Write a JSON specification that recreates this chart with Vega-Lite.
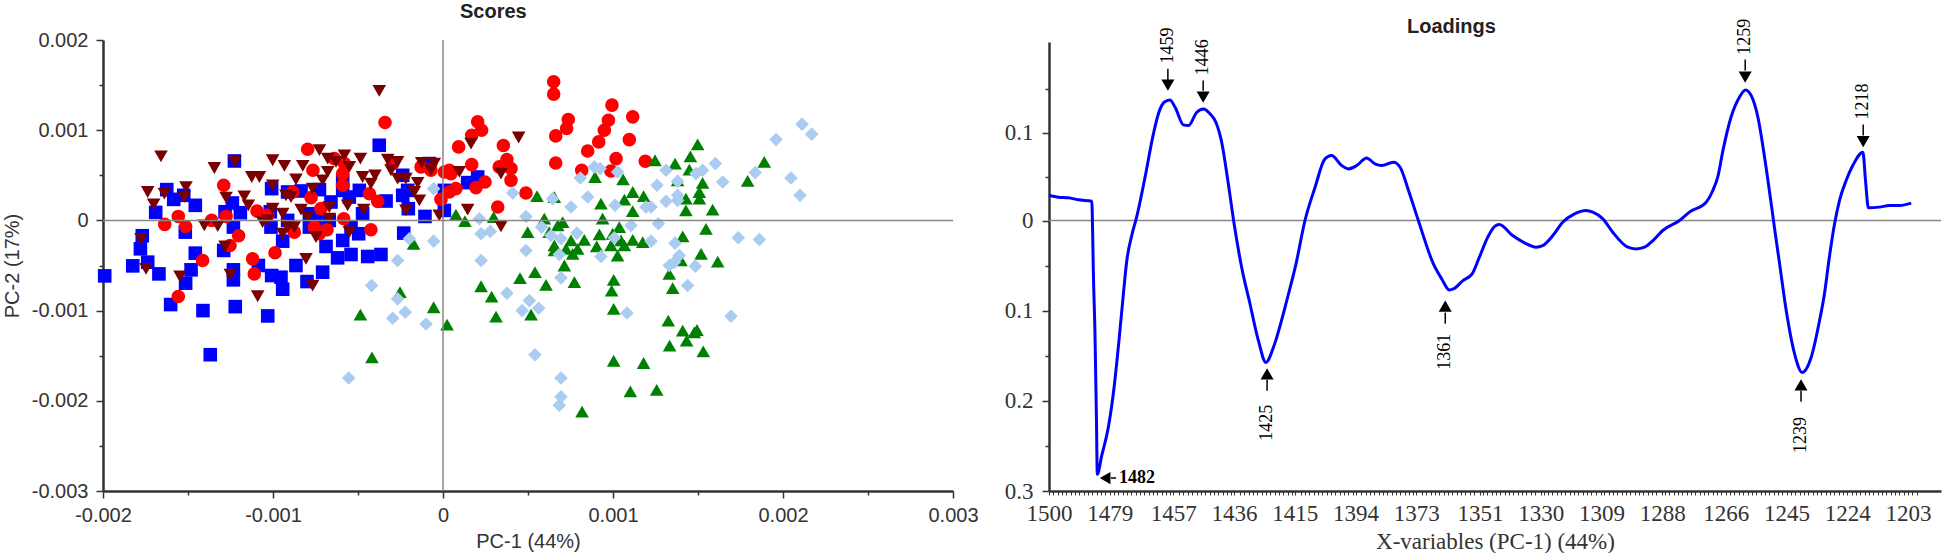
{
"$schema":"https://vega.github.io/schema/vega-lite/v6.json",
"background":"white",
"padding":{"left":2,"top":2,"right":0,"bottom":0},
"bounds":"flush",
"spacing":96,
"config":{"view":{"stroke":null}},
"datasets":{
"scores":[
{"g":"Group 1","x":-0.00199,"y":-0.000615},{"g":"Group 1","x":-0.001825,"y":-0.000504},{"g":"Group 1","x":-0.001737,"y":-0.000463},{"g":"Group 1","x":-0.00178,"y":-0.000315},{"g":"Group 1","x":-0.001769,"y":-0.00017},{"g":"Group 1","x":-0.001671,"y":-0.000593},{"g":"Group 1","x":-0.00169,"y":0.000089},{"g":"Group 1","x":-0.001625,"y":0.000341},{"g":"Group 1","x":-0.001584,"y":0.000233},{"g":"Group 1","x":-0.001525,"y":0.000278},{"g":"Group 1","x":-0.001457,"y":0.000167},{"g":"Group 1","x":-0.001516,"y":-0.00013},{"g":"Group 1","x":-0.001457,"y":-0.000363},{"g":"Group 1","x":-0.001482,"y":-0.000548},{"g":"Group 1","x":-0.001514,"y":-0.000696},{"g":"Group 1","x":-0.00129,"y":-0.000333},{"g":"Group 1","x":-0.001233,"y":-0.000548},{"g":"Group 1","x":-0.001233,"y":-0.000659},{"g":"Group 1","x":-0.001239,"y":0.000193},{"g":"Group 1","x":-0.001282,"y":0.000096},{"g":"Group 1","x":-0.001192,"y":0.000085},{"g":"Group 1","x":-0.001233,"y":-0.000074},{"g":"Group 1","x":-0.001227,"y":0.000659},{"g":"Group 1","x":-0.001008,"y":0.000352},{"g":"Group 1","x":-0.001016,"y":0.000096},{"g":"Group 1","x":-0.001012,"y":-0.000074},{"g":"Group 1","x":-0.001086,"y":-0.0005},{"g":"Group 1","x":-0.001008,"y":-0.000611},{"g":"Group 1","x":-0.000953,"y":-0.00063},{"g":"Group 1","x":-0.000943,"y":-0.000763},{"g":"Group 1","x":-0.000943,"y":-0.00023},{"g":"Group 1","x":-0.000914,"y":0},{"g":"Group 1","x":-0.000914,"y":0.000315},{"g":"Group 1","x":-0.000835,"y":0.000326},{"g":"Group 1","x":-0.000865,"y":-0.0005},{"g":"Group 1","x":-0.0008,"y":-0.000678},{"g":"Group 1","x":-0.000708,"y":-0.000574},{"g":"Group 1","x":-0.000688,"y":-0.000289},{"g":"Group 1","x":-0.000786,"y":0.000074},{"g":"Group 1","x":-0.000786,"y":-0.000074},{"g":"Group 1","x":-0.000727,"y":0.000341},{"g":"Group 1","x":-0.000747,"y":0},{"g":"Group 1","x":-0.000659,"y":0.000204},{"g":"Group 1","x":-0.000669,"y":0},{"g":"Group 1","x":-0.00059,"y":0.000444},{"g":"Group 1","x":-0.00059,"y":0.000333},{"g":"Group 1","x":-0.000551,"y":0.000259},{"g":"Group 1","x":-0.000492,"y":0.000333},{"g":"Group 1","x":-0.000473,"y":0.000074},{"g":"Group 1","x":-0.000541,"y":-0.000074},{"g":"Group 1","x":-0.00059,"y":-0.000222},{"g":"Group 1","x":-0.00062,"y":-0.000415},{"g":"Group 1","x":-0.000541,"y":-0.000378},{"g":"Group 1","x":-0.000496,"y":-0.000148},{"g":"Group 1","x":-0.000443,"y":-0.0004},{"g":"Group 1","x":-0.000365,"y":-0.000378},{"g":"Group 1","x":-0.000335,"y":0.000215},{"g":"Group 1","x":-0.000375,"y":0.000833},{"g":"Group 1","x":-0.000237,"y":0.0005},{"g":"Group 1","x":-0.000237,"y":0.000278},{"g":"Group 1","x":-0.000208,"y":0.000333},{"g":"Group 1","x":-0.000204,"y":0.00013},{"g":"Group 1","x":-0.000231,"y":-0.000141},{"g":"Group 1","x":-0.000106,"y":0.000044},{"g":"Group 1","x":-0.00008,"y":0.00063},{"g":"Group 1","x":0.000008,"y":0.000333},{"g":"Group 1","x":0.000008,"y":0.000111},{"g":"Group 1","x":0.000145,"y":0.000419},{"g":"Group 1","x":0.000204,"y":0.000481},{"g":"Group 1","x":-0.001602,"y":-0.000933},{"g":"Group 1","x":-0.001412,"y":-0.001},{"g":"Group 1","x":-0.001222,"y":-0.000956},{"g":"Group 1","x":-0.001031,"y":-0.001059},{"g":"Group 1","x":-0.001369,"y":-0.001489},
{"g":"Group 2","x":-0.001637,"y":-0.000044},{"g":"Group 2","x":-0.001557,"y":0.000044},{"g":"Group 2","x":-0.001514,"y":-0.000067},{"g":"Group 2","x":-0.001414,"y":-0.000444},{"g":"Group 2","x":-0.001361,"y":0},{"g":"Group 2","x":-0.00129,"y":0.000389},{"g":"Group 2","x":-0.001276,"y":0.000044},{"g":"Group 2","x":-0.001202,"y":-0.00017},{"g":"Group 2","x":-0.001253,"y":-0.000278},{"g":"Group 2","x":-0.00112,"y":-0.000426},{"g":"Group 2","x":-0.00111,"y":-0.000593},{"g":"Group 2","x":-0.000988,"y":-0.000359},{"g":"Group 2","x":-0.001094,"y":0.000104},{"g":"Group 2","x":-0.001031,"y":0.000056},{"g":"Group 2","x":-0.000884,"y":0.000315},{"g":"Group 2","x":-0.000875,"y":-0.00013},{"g":"Group 2","x":-0.000796,"y":0.000789},{"g":"Group 2","x":-0.000765,"y":0.000556},{"g":"Group 2","x":-0.000776,"y":0.000252},{"g":"Group 2","x":-0.000718,"y":0.00013},{"g":"Group 2","x":-0.000757,"y":-0.000074},{"g":"Group 2","x":-0.000727,"y":-0.000148},{"g":"Group 2","x":-0.000682,"y":-0.000104},{"g":"Group 2","x":-0.000584,"y":0.000019},{"g":"Group 2","x":-0.00059,"y":0.000389},{"g":"Group 2","x":-0.00059,"y":0.000519},{"g":"Group 2","x":-0.000639,"y":0.000685},{"g":"Group 2","x":-0.00058,"y":0.00063},{"g":"Group 2","x":-0.000424,"y":-0.000104},{"g":"Group 2","x":-0.000433,"y":0.000296},{"g":"Group 2","x":-0.000384,"y":0.000211},{"g":"Group 2","x":-0.000341,"y":0.001085},{"g":"Group 2","x":-0.000296,"y":0.00063},{"g":"Group 2","x":-0.000129,"y":0.000593},{"g":"Group 2","x":-0.000071,"y":0.000556},{"g":"Group 2","x":-0.000012,"y":0.000233},{"g":"Group 2","x":0.000008,"y":0.000537},{"g":"Group 2","x":0.000037,"y":0.000556},{"g":"Group 2","x":0.000047,"y":0.000519},{"g":"Group 2","x":0.000037,"y":0.000315},{"g":"Group 2","x":0.000076,"y":0.000352},{"g":"Group 2","x":0.000092,"y":0.000815},{"g":"Group 2","x":0.000169,"y":0.000944},{"g":"Group 2","x":0.000204,"y":0.001093},{"g":"Group 2","x":0.000227,"y":0.001},{"g":"Group 2","x":0.000169,"y":0.000619},{"g":"Group 2","x":0.000194,"y":0.000363},{"g":"Group 2","x":0.000247,"y":0.000426},{"g":"Group 2","x":0.000322,"y":0.000148},{"g":"Group 2","x":0.000331,"y":0.000593},{"g":"Group 2","x":-0.001557,"y":-0.000844},{"g":"Group 2","x":0.000355,"y":0.00083},{"g":"Group 2","x":0.000376,"y":0.000674},{"g":"Group 2","x":0.0004,"y":0.000574},{"g":"Group 2","x":0.0004,"y":0.000444},{"g":"Group 2","x":0.000488,"y":0.000304},{"g":"Group 2","x":0.000651,"y":0.001537},{"g":"Group 2","x":0.000651,"y":0.0014},{"g":"Group 2","x":0.000737,"y":0.001119},{"g":"Group 2","x":0.000727,"y":0.001019},{"g":"Group 2","x":0.000663,"y":0.000937},{"g":"Group 2","x":0.000663,"y":0.000637},{"g":"Group 2","x":0.000816,"y":0.000556},{"g":"Group 2","x":0.000851,"y":0.00077},{"g":"Group 2","x":0.000916,"y":0.00087},{"g":"Group 2","x":0.000949,"y":0.001},{"g":"Group 2","x":0.000973,"y":0.001111},{"g":"Group 2","x":0.000994,"y":0.001278},{"g":"Group 2","x":0.001116,"y":0.001148},{"g":"Group 2","x":0.001096,"y":0.000896},{"g":"Group 2","x":0.001018,"y":0.000685},{"g":"Group 2","x":0.000988,"y":0.000548},{"g":"Group 2","x":0.00119,"y":0.000656},
{"g":"Group 3","x":0.001247,"y":0.000667},{"g":"Group 3","x":0.001365,"y":0.00063},{"g":"Group 3","x":0.001498,"y":0.000844},{"g":"Group 3","x":0.001455,"y":0.000711},{"g":"Group 3","x":0.001449,"y":0.000563},{"g":"Group 3","x":0.000894,"y":0.000481},{"g":"Group 3","x":0.001059,"y":0.000456},{"g":"Group 3","x":0.001116,"y":0.000315},{"g":"Group 3","x":0.001067,"y":0.00023},{"g":"Group 3","x":0.00118,"y":0.00027},{"g":"Group 3","x":0.000929,"y":0.000185},{"g":"Group 3","x":0.001116,"y":0.000104},{"g":"Group 3","x":0.000939,"y":0.000019},{"g":"Group 3","x":0.000553,"y":0.00027},{"g":"Group 3","x":0.000655,"y":0.000259},{"g":"Group 3","x":0.00138,"y":0.000444},{"g":"Group 3","x":0.001527,"y":0.000415},{"g":"Group 3","x":0.001508,"y":0.000315},{"g":"Group 3","x":0.001508,"y":0.000241},{"g":"Group 3","x":0.001429,"y":0.000241},{"g":"Group 3","x":0.001429,"y":0.000111},{"g":"Group 3","x":0.001586,"y":0.000119},{"g":"Group 3","x":0.00189,"y":0.000648},{"g":"Group 3","x":0.001792,"y":0.000437},{"g":"Group 3","x":0.000076,"y":0.000063},{"g":"Group 3","x":0.000129,"y":-0.000007},{"g":"Group 3","x":0.000298,"y":0.000037},{"g":"Group 3","x":0.000498,"y":-0.00013},{"g":"Group 3","x":0.000596,"y":0.000019},{"g":"Group 3","x":0.000704,"y":-0.000019},{"g":"Group 3","x":0.000675,"y":-0.000056},{"g":"Group 3","x":0.000625,"y":-0.00013},{"g":"Group 3","x":0.001547,"y":-0.000093},{"g":"Group 3","x":0.00141,"y":-0.000178},{"g":"Group 3","x":0.00092,"y":-0.000156},{"g":"Group 3","x":0.000831,"y":-0.000215},{"g":"Group 3","x":0.000753,"y":-0.000222},{"g":"Group 3","x":0.000724,"y":-0.000315},{"g":"Group 3","x":0.000655,"y":-0.000278},{"g":"Group 3","x":0.000763,"y":-0.00037},{"g":"Group 3","x":0.000655,"y":-0.000333},{"g":"Group 3","x":0.000792,"y":-0.000315},{"g":"Group 3","x":0.000904,"y":-0.000289},{"g":"Group 3","x":0.000998,"y":-0.000148},{"g":"Group 3","x":0.001037,"y":-0.000074},{"g":"Group 3","x":0.001047,"y":-0.000222},{"g":"Group 3","x":0.000988,"y":-0.000278},{"g":"Group 3","x":0.001067,"y":-0.000278},{"g":"Group 3","x":0.001116,"y":-0.000215},{"g":"Group 3","x":0.001175,"y":-0.000241},{"g":"Group 3","x":0.001027,"y":-0.000389},{"g":"Group 3","x":0.001518,"y":-0.00037},{"g":"Group 3","x":0.001616,"y":-0.000456},{"g":"Group 3","x":0.0014,"y":-0.000444},{"g":"Group 3","x":0.000714,"y":-0.0005},{"g":"Group 3","x":0.000453,"y":-0.000641},{"g":"Group 3","x":0.000541,"y":-0.000574},{"g":"Group 3","x":0.000606,"y":-0.000715},{"g":"Group 3","x":0.000773,"y":-0.000685},{"g":"Group 3","x":0.001004,"y":-0.000659},{"g":"Group 3","x":0.000992,"y":-0.000778},{"g":"Group 3","x":0.001331,"y":-0.000593},{"g":"Group 3","x":0.001351,"y":-0.000752},{"g":"Group 3","x":0.000224,"y":-0.00073},{"g":"Group 3","x":0.000286,"y":-0.000844},{"g":"Group 3","x":-0.000173,"y":-0.000259},{"g":"Group 3","x":-0.000253,"y":-0.000796},{"g":"Group 3","x":-0.000486,"y":-0.001044},{"g":"Group 3","x":-0.000418,"y":-0.001519},{"g":"Group 3","x":-0.000055,"y":-0.000963},{"g":"Group 3","x":0.000024,"y":-0.001156},{"g":"Group 3","x":0.000312,"y":-0.001067},{"g":"Group 3","x":0.000518,"y":-0.001044},{"g":"Group 3","x":0.001004,"y":-0.000981},{"g":"Group 3","x":0.001325,"y":-0.001111},{"g":"Group 3","x":0.00141,"y":-0.001222},{"g":"Group 3","x":0.001494,"y":-0.001215},{"g":"Group 3","x":0.001478,"y":-0.001241},{"g":"Group 3","x":0.001433,"y":-0.001333},{"g":"Group 3","x":0.001333,"y":-0.001389},{"g":"Group 3","x":0.001531,"y":-0.001452},{"g":"Group 3","x":0.001004,"y":-0.001556},{"g":"Group 3","x":0.00118,"y":-0.001581},{"g":"Group 3","x":0.001102,"y":-0.001896},{"g":"Group 3","x":0.001257,"y":-0.001878},{"g":"Group 3","x":0.000818,"y":-0.002119},
{"g":"Group 4","x":0.002112,"y":0.001067},{"g":"Group 4","x":0.002169,"y":0.000956},{"g":"Group 4","x":0.001959,"y":0.000896},{"g":"Group 4","x":0.001602,"y":0.00063},{"g":"Group 4","x":0.001527,"y":0.000556},{"g":"Group 4","x":0.001488,"y":0.000519},{"g":"Group 4","x":0.001312,"y":0.000556},{"g":"Group 4","x":0.00089,"y":0.000593},{"g":"Group 4","x":0.000924,"y":0.000574},{"g":"Group 4","x":0.001027,"y":0.000537},{"g":"Group 4","x":0.000808,"y":0.00047},{"g":"Group 4","x":0.001259,"y":0.000389},{"g":"Group 4","x":0.00138,"y":0.000433},{"g":"Group 4","x":0.001645,"y":0.000426},{"g":"Group 4","x":0.001837,"y":0.00053},{"g":"Group 4","x":0.002047,"y":0.00047},{"g":"Group 4","x":0.0021,"y":0.000278},{"g":"Group 4","x":0.00041,"y":0.000304},{"g":"Group 4","x":0.000645,"y":0.000241},{"g":"Group 4","x":0.000851,"y":0.000259},{"g":"Group 4","x":0.000753,"y":0.000148},{"g":"Group 4","x":0.001012,"y":0.000167},{"g":"Group 4","x":0.001194,"y":0.000148},{"g":"Group 4","x":0.001224,"y":0.000148},{"g":"Group 4","x":0.001312,"y":0.000211},{"g":"Group 4","x":0.00138,"y":0.000278},{"g":"Group 4","x":0.00138,"y":0.000222},{"g":"Group 4","x":0.000488,"y":0.000044},{"g":"Group 4","x":0.001267,"y":-0.000037},{"g":"Group 4","x":0.000214,"y":0.000019},{"g":"Group 4","x":0.000224,"y":-0.000148},{"g":"Group 4","x":0.000278,"y":-0.000122},{"g":"Group 4","x":0.000224,"y":-0.000444},{"g":"Group 4","x":0.000488,"y":-0.000333},{"g":"Group 4","x":0.00058,"y":-0.000074},{"g":"Group 4","x":0.000635,"y":-0.000167},{"g":"Group 4","x":0.000694,"y":-0.000204},{"g":"Group 4","x":0.000788,"y":-0.000141},{"g":"Group 4","x":0.001008,"y":-0.000193},{"g":"Group 4","x":0.001106,"y":-0.000056},{"g":"Group 4","x":0.001224,"y":-0.00023},{"g":"Group 4","x":0.001365,"y":-0.000252},{"g":"Group 4","x":0.00139,"y":-0.000389},{"g":"Group 4","x":0.001331,"y":-0.0005},{"g":"Group 4","x":0.001361,"y":-0.000463},{"g":"Group 4","x":0.001484,"y":-0.000507},{"g":"Group 4","x":0.001439,"y":-0.000722},{"g":"Group 4","x":0.001737,"y":-0.000193},{"g":"Group 4","x":0.001861,"y":-0.000211},{"g":"Group 4","x":0.000929,"y":-0.0004},{"g":"Group 4","x":0.000684,"y":-0.000378},{"g":"Group 4","x":0.000694,"y":-0.000637},{"g":"Group 4","x":0.000376,"y":-0.000807},{"g":"Group 4","x":0.000508,"y":-0.000889},{"g":"Group 4","x":-0.000055,"y":0.000352},{"g":"Group 4","x":-0.000198,"y":-0.000204},{"g":"Group 4","x":-0.000055,"y":-0.00023},{"g":"Group 4","x":-0.000267,"y":-0.000444},{"g":"Group 4","x":-0.00042,"y":-0.000722},{"g":"Group 4","x":-0.000267,"y":-0.00087},{"g":"Group 4","x":-0.000222,"y":-0.001019},{"g":"Group 4","x":-0.000296,"y":-0.001085},{"g":"Group 4","x":-0.0001,"y":-0.001148},{"g":"Group 4","x":-0.000555,"y":-0.001748},{"g":"Group 4","x":0.000465,"y":-0.001},{"g":"Group 4","x":0.000563,"y":-0.000974},{"g":"Group 4","x":0.001082,"y":-0.001026},{"g":"Group 4","x":0.001694,"y":-0.001063},{"g":"Group 4","x":0.000541,"y":-0.001489},{"g":"Group 4","x":0.000694,"y":-0.001748},{"g":"Group 4","x":0.000694,"y":-0.001956},{"g":"Group 4","x":0.000684,"y":-0.002048},
{"g":"Group 5","x":-0.001659,"y":0.000711},{"g":"Group 5","x":-0.001737,"y":0.000315},{"g":"Group 5","x":-0.001702,"y":0.000178},{"g":"Group 5","x":-0.001639,"y":0.000296},{"g":"Group 5","x":-0.001776,"y":-0.000204},{"g":"Group 5","x":-0.001747,"y":-0.000537},{"g":"Group 5","x":-0.001547,"y":-0.000622},{"g":"Group 5","x":-0.001512,"y":0.00037},{"g":"Group 5","x":-0.001522,"y":0.000259},{"g":"Group 5","x":-0.001404,"y":-0.000056},{"g":"Group 5","x":-0.001345,"y":0.000581},{"g":"Group 5","x":-0.001325,"y":-0.000063},{"g":"Group 5","x":-0.001276,"y":0.000252},{"g":"Group 5","x":-0.001282,"y":-0.000289},{"g":"Group 5","x":-0.001251,"y":-0.0006},{"g":"Group 5","x":-0.001224,"y":0.000648},{"g":"Group 5","x":-0.001169,"y":0.000267},{"g":"Group 5","x":-0.001145,"y":0.000167},{"g":"Group 5","x":-0.001125,"y":0.000481},{"g":"Group 5","x":-0.00108,"y":0.000481},{"g":"Group 5","x":-0.00109,"y":-0.000841},{"g":"Group 5","x":-0.001002,"y":0.000667},{"g":"Group 5","x":-0.000933,"y":0.000604},{"g":"Group 5","x":-0.001002,"y":0.000389},{"g":"Group 5","x":-0.001002,"y":0.00013},{"g":"Group 5","x":-0.000943,"y":0.000074},{"g":"Group 5","x":-0.001061,"y":-0.000019},{"g":"Group 5","x":-0.001031,"y":0},{"g":"Group 5","x":-0.000943,"y":-0.000148},{"g":"Group 5","x":-0.000924,"y":0.000278},{"g":"Group 5","x":-0.000894,"y":0.000259},{"g":"Group 5","x":-0.000865,"y":0.000456},{"g":"Group 5","x":-0.000825,"y":0.000604},{"g":"Group 5","x":-0.000835,"y":0.000119},{"g":"Group 5","x":-0.000806,"y":-0.000426},{"g":"Group 5","x":-0.000767,"y":-0.000722},{"g":"Group 5","x":-0.000796,"y":0.000037},{"g":"Group 5","x":-0.000767,"y":0.000352},{"g":"Group 5","x":-0.000747,"y":-0.000185},{"g":"Group 5","x":-0.000727,"y":0.000778},{"g":"Group 5","x":-0.000678,"y":0.000685},{"g":"Group 5","x":-0.000708,"y":0.000444},{"g":"Group 5","x":-0.000678,"y":0.000537},{"g":"Group 5","x":-0.000669,"y":0.000148},{"g":"Group 5","x":-0.000669,"y":0.000019},{"g":"Group 5","x":-0.000629,"y":0.000648},{"g":"Group 5","x":-0.00058,"y":0.000722},{"g":"Group 5","x":-0.000551,"y":0.000593},{"g":"Group 5","x":-0.000561,"y":0.000167},{"g":"Group 5","x":-0.000551,"y":-0.00013},{"g":"Group 5","x":-0.000486,"y":0.000685},{"g":"Group 5","x":-0.000473,"y":0.000481},{"g":"Group 5","x":-0.000467,"y":0.000119},{"g":"Group 5","x":-0.000424,"y":0.000407},{"g":"Group 5","x":-0.0004,"y":0.0005},{"g":"Group 5","x":-0.000375,"y":0.001437},{"g":"Group 5","x":-0.000325,"y":0.000674},{"g":"Group 5","x":-0.000267,"y":0.000648},{"g":"Group 5","x":-0.000306,"y":0.000556},{"g":"Group 5","x":-0.000267,"y":0.000463},{"g":"Group 5","x":-0.000218,"y":0.000463},{"g":"Group 5","x":-0.000218,"y":0.000111},{"g":"Group 5","x":-0.000149,"y":0.000415},{"g":"Group 5","x":-0.000169,"y":0.000315},{"g":"Group 5","x":-0.000139,"y":0.000222},{"g":"Group 5","x":-0.000125,"y":0.000637},{"g":"Group 5","x":-0.000071,"y":0.000556},{"g":"Group 5","x":-0.000051,"y":0.00063},{"g":"Group 5","x":-0.000022,"y":0.000056},{"g":"Group 5","x":0.000096,"y":0.000537},{"g":"Group 5","x":0.000145,"y":0.000119},{"g":"Group 5","x":0.000165,"y":0.000852},{"g":"Group 5","x":0.000341,"y":0.000519},{"g":"Group 5","x":-0.000875,"y":-0.000074},{"g":"Group 5","x":-0.000914,"y":-0.000074},{"g":"Group 5","x":0.000445,"y":0.000919},{"g":"Group 5","x":0.000341,"y":-0.000067}
],
"loadings":[
{"wn":1500,"v":0.0284},{"wn":1496.8,"v":0.0265},{"wn":1493.3,"v":0.0258},{"wn":1489.9,"v":0.0235},{"wn":1485.2,"v":0.022},{"wn":1484.9,"v":-0.0148},{"wn":1484.7,"v":-0.0519},{"wn":1484.1,"v":-0.1259},{"wn":1483.6,"v":-0.2185},{"wn":1483.3,"v":-0.2815},{"wn":1481.8,"v":-0.2611},{"wn":1479.5,"v":-0.2296},{"wn":1477.5,"v":-0.1852},{"wn":1475.7,"v":-0.1296},{"wn":1474.5,"v":-0.0889},{"wn":1473.1,"v":-0.0444},{"wn":1471.4,"v":-0.0167},{"wn":1469.7,"v":0.0038},{"wn":1466.8,"v":0.0492},{"wn":1463.9,"v":0.0985},{"wn":1462.2,"v":0.1212},{"wn":1460.2,"v":0.1345},{"wn":1458.2,"v":0.1371},{"wn":1456.4,"v":0.1288},{"wn":1453.5,"v":0.1087},{"wn":1451.8,"v":0.108},{"wn":1448.9,"v":0.1231},{"wn":1446.6,"v":0.1269},{"wn":1444.3,"v":0.1212},{"wn":1442.3,"v":0.1117},{"wn":1440.3,"v":0.089},{"wn":1438,"v":0.0417},{"wn":1436,"v":-0.0037},{"wn":1433.4,"v":-0.0519},{"wn":1430.5,"v":-0.0926},{"wn":1427.6,"v":-0.1333},{"wn":1425,"v":-0.1574},{"wn":1422.4,"v":-0.1407},{"wn":1419,"v":-0.1037},{"wn":1417.8,"v":-0.0889},{"wn":1414.6,"v":-0.0481},{"wn":1411.5,"v":0},{"wn":1408,"v":0.0379},{"wn":1404.6,"v":0.0701},{"wn":1402.3,"v":0.0739},{"wn":1398.8,"v":0.0625},{"wn":1396.5,"v":0.0587},{"wn":1393.6,"v":0.0625},{"wn":1390.2,"v":0.0712},{"wn":1387.3,"v":0.0644},{"wn":1385,"v":0.0625},{"wn":1380.9,"v":0.0663},{"wn":1378.6,"v":0.0606},{"wn":1375.7,"v":0.0341},{"wn":1372.3,"v":0},{"wn":1367.1,"v":-0.0481},{"wn":1364.2,"v":-0.0648},{"wn":1361.6,"v":-0.077},{"wn":1360.2,"v":-0.0759},{"wn":1356.9,"v":-0.0667},{"wn":1353.7,"v":-0.0593},{"wn":1351.2,"v":-0.0407},{"wn":1348.3,"v":-0.0185},{"wn":1346,"v":-0.0067},{"wn":1344.3,"v":-0.0044},{"wn":1339.7,"v":-0.0167},{"wn":1335.6,"v":-0.0248},{"wn":1331.6,"v":-0.0296},{"wn":1329.3,"v":-0.0278},{"wn":1325.8,"v":-0.0167},{"wn":1322.4,"v":-0.0019},{"wn":1318.3,"v":0.0076},{"wn":1314.3,"v":0.0114},{"wn":1312,"v":0.0095},{"wn":1308.5,"v":0.0019},{"wn":1305.1,"v":-0.013},{"wn":1299.9,"v":-0.0296},{"wn":1297,"v":-0.0315},{"wn":1294.1,"v":-0.0296},{"wn":1291.2,"v":-0.0222},{"wn":1287.8,"v":-0.0111},{"wn":1282,"v":0},{"wn":1278.6,"v":0.0095},{"wn":1272.8,"v":0.0208},{"wn":1270.5,"v":0.0341},{"wn":1268.8,"v":0.0492},{"wn":1267,"v":0.0795},{"wn":1264.2,"v":0.1174},{"wn":1261.3,"v":0.1402},{"wn":1259.2,"v":0.1485},{"wn":1257.2,"v":0.142},{"wn":1254.9,"v":0.1174},{"wn":1252.6,"v":0.072},{"wn":1250.3,"v":0.0189},{"wn":1249.2,"v":-0.0074},{"wn":1247.4,"v":-0.0481},{"wn":1245.1,"v":-0.1},{"wn":1242.2,"v":-0.1481},{"wn":1239.6,"v":-0.1685},{"wn":1236.5,"v":-0.1519},{"wn":1233.6,"v":-0.1111},{"wn":1231.9,"v":-0.0815},{"wn":1230.2,"v":-0.0407},{"wn":1228.4,"v":-0.0037},{"wn":1226.7,"v":0.0227},{"wn":1224.4,"v":0.0455},{"wn":1222.1,"v":0.0625},{"wn":1218.6,"v":0.0777},{"wn":1217.7,"v":0.0455},{"wn":1216.7,"v":0.0144},{"wn":1212.9,"v":0.0152},{"wn":1209.4,"v":0.017},{"wn":1205.9,"v":0.017},{"wn":1201.9,"v":0.0197}
],
"peaks":[
{"label":"1459","wn":1458.9,"textV":0.1989,"shaftA":0.1727,"shaftB":0.1591,"headV":0.154,"dir":"down"},
{"label":"1446","wn":1446.7,"textV":0.1857,"shaftA":0.1591,"shaftB":0.1477,"headV":0.1403,"dir":"down"},
{"label":"1259","wn":1259.3,"textV":0.2091,"shaftA":0.183,"shaftB":0.1705,"headV":0.1631,"dir":"down"},
{"label":"1218","wn":1218.5,"textV":0.1352,"shaftA":0.1091,"shaftB":0.0966,"headV":0.0898,"dir":"down"},
{"label":"1425","wn":1424.6,"textV":-0.2244,"shaftA":-0.1767,"shaftB":-0.1889,"headV":-0.17,"dir":"up"},
{"label":"1361","wn":1363,"textV":-0.1456,"shaftA":-0.1022,"shaftB":-0.1144,"headV":-0.095,"dir":"up"},
{"label":"1239","wn":1240,"textV":-0.2378,"shaftA":-0.1889,"shaftB":-0.2011,"headV":-0.1822,"dir":"up"}
],
"peak1482":[{"label":"1482","textWn":1469.6,"shaftA":1478.6,"shaftB":1476.8,"headWn":1480.6,"v":-0.2856}]
},
"hconcat":[
{
"width":850,"height":451,
"title":{"text":"Scores","font":"Liberation Sans","fontSize":20,"fontWeight":"bold","color":"#222","anchor":"start","frame":"group","dx":357,"offset":8},
"layer":[
{"data":{"name":"scores"},"mark":{"type":"point","filled":true,"opacity":1,"size":185},
"encoding":{
"x":{"field":"x","type":"quantitative","title":"PC-1 (44%)","scale":{"domain":[-0.002,0.003],"nice":false,"zero":false},
"axis":{"values":[-0.002,-0.0015,-0.001,-0.0005,0,0.0005,0.001,0.0015,0.002,0.0025,0.003],"grid":false,"domainColor":"#333","domainWidth":2.5,"tickColor":"#333","tickWidth":1.5,"tickSize":{"condition":{"test":"abs(datum.value*1000-round(datum.value*1000))<0.01","value":7},"value":4},"labelFont":"Liberation Sans","labelFontSize":20,"labelColor":"#333","labelPadding":7,"labelOverlap":false,"labelFlush":false,"labelExpr":"abs(datum.value*1000-round(datum.value*1000))<0.01 ? (datum.value==0 ? '0' : (datum.value<0 ? '-' : '')+format(abs(datum.value),'.3f')) : ''","titleFont":"Liberation Sans","titleFontSize":20,"titleFontWeight":"normal","titleColor":"#333","titlePadding":6}},
"y":{"field":"y","type":"quantitative","title":"PC-2 (17%)","scale":{"domain":[-0.003,0.002],"nice":false,"zero":false},
"axis":{"values":[-0.003,-0.0025,-0.002,-0.0015,-0.001,-0.0005,0,0.0005,0.001,0.0015,0.002],"grid":false,"domainColor":"#333","domainWidth":2.5,"tickColor":"#333","tickWidth":1.5,"tickSize":{"condition":{"test":"abs(datum.value*1000-round(datum.value*1000))<0.01","value":7},"value":4},"labelFont":"Liberation Sans","labelFontSize":20,"labelColor":"#333","labelPadding":8,"labelOverlap":false,"labelFlush":false,"labelExpr":"abs(datum.value*1000-round(datum.value*1000))<0.01 ? (datum.value==0 ? '0' : (datum.value<0 ? '-' : '')+format(abs(datum.value),'.3f')) : ''","titleFont":"Liberation Sans","titleFontSize":20,"titleFontWeight":"normal","titleColor":"#333","titlePadding":9}},
"shape":{"field":"g","type":"nominal","legend":null,"scale":{"domain":["Group 1","Group 2","Group 3","Group 4","Group 5"],"range":["square","circle","triangle-up","diamond","triangle-down"]}},
"color":{"field":"g","type":"nominal","legend":null,"scale":{"domain":["Group 1","Group 2","Group 3","Group 4","Group 5"],"range":["#0000ff","#ff0000","#008000","#aaccf0","#7a0000"]}}
}},
{"data":{"values":[{"z":0}]},"mark":{"type":"rule","color":"#888","strokeWidth":1.5},"encoding":{"x":{"field":"z","type":"quantitative"}}},
{"data":{"values":[{"z":0}]},"mark":{"type":"rule","color":"#888","strokeWidth":1.5},"encoding":{"y":{"field":"z","type":"quantitative"}}}
]
},
{
"width":892,"height":451,
"title":{"text":"Loadings","font":"Liberation Sans","fontSize":20,"fontWeight":"bold","color":"#222","anchor":"start","frame":"group","dx":358,"offset":-18},
"layer":[
{"data":{"values":[{"z":0}]},"mark":{"type":"rule","color":"#888","strokeWidth":1.5},"encoding":{"y":{"field":"z","type":"quantitative","scale":{"domain":[-0.3,0,0.203],"range":[451,180.5,2],"nice":false,"zero":false}}}},
{"data":{"name":"loadings"},"mark":{"type":"line","color":"#0000ff","strokeWidth":3,"interpolate":"monotone"},
"encoding":{
"x":{"field":"wn","type":"quantitative","title":"X-variables (PC-1) (44%)","scale":{"domain":[1500,1191.6],"nice":false,"zero":false},
"axis":{"tickCount":400,"values":[1500,1498.5,1497,1495.5,1494,1492.5,1491,1489.5,1488,1486.5,1485,1483.5,1482,1480.5,1479,1477.5,1476,1474.5,1473,1471.5,1470,1468.5,1467,1465.5,1464,1462.5,1461,1459.5,1458,1457,1455,1453.5,1452,1450.5,1449,1447.5,1446,1444.5,1443,1441.5,1440,1438.5,1437,1436,1434,1432.5,1431,1429.5,1428,1426.5,1425,1423.5,1422,1420.5,1419,1417.5,1416,1415,1413,1411.5,1410,1408.5,1407,1405.5,1404,1402.5,1401,1399.5,1398,1396.5,1395,1394,1392,1390.5,1389,1387.5,1386,1384.5,1383,1381.5,1380,1378.5,1377,1375.5,1374,1373,1371,1369.5,1368,1366.5,1365,1363.5,1362,1360.5,1359,1357.5,1356,1354.5,1353,1351,1350,1348.5,1347,1345.5,1344,1342.5,1341,1339.5,1338,1336.5,1335,1333.5,1332,1330,1329,1327.5,1326,1324.5,1323,1321.5,1320,1318.5,1317,1315.5,1314,1312.5,1311,1309,1308,1306.5,1305,1303.5,1302,1300.5,1299,1297.5,1296,1294.5,1293,1291.5,1290,1288,1287,1285.5,1284,1282.5,1281,1279.5,1278,1276.5,1275,1273.5,1272,1270.5,1269,1267.5,1266,1264.5,1263,1261.5,1260,1258.5,1257,1255.5,1254,1252.5,1251,1249.5,1248,1246.5,1245,1243.5,1242,1240.5,1239,1237.5,1236,1234.5,1233,1231.5,1230,1228.5,1227,1225.5,1224,1222.5,1221,1219.5,1218,1216.5,1215,1213.5,1212,1210.5,1209,1207.5,1206,1204.5,1203,1201.5,1200],"grid":false,"domainColor":"#333","domainWidth":2.5,"tickColor":"#333","tickWidth":1,"tickSize":4,"labelFont":"Liberation Serif","labelFontSize":23,"labelColor":"#333","labelPadding":7,"labelOverlap":false,"labelFlush":false,"labelExpr":"indexof([1500,1479,1457,1436,1415,1394,1373,1351,1330,1309,1288,1266,1245,1224,1203],datum.value)>=0 ? format(datum.value,'d') : ''","titleFont":"Liberation Serif","titleFontSize":23,"titleFontWeight":"normal","titleColor":"#333","titlePadding":5}},
"y":{"field":"v","type":"quantitative","title":null,"scale":{"domain":[-0.3,0,0.203],"range":[451,180.5,2],"nice":false,"zero":false},
"axis":{"values":[-0.3,-0.25,-0.2,-0.15,-0.1,-0.05,0,0.05,0.1,0.15],"grid":false,"domainColor":"#333","domainWidth":2.5,"tickColor":"#333","tickWidth":1.5,"tickSize":{"condition":{"test":"abs(datum.value*10-round(datum.value*10))<0.01","value":7},"value":4},"labelFont":"Liberation Serif","labelFontSize":23,"labelColor":"#333","labelPadding":9,"labelOverlap":false,"labelFlush":false,"labelExpr":"abs(datum.value*10-round(datum.value*10))<0.01 ? (datum.value==0 ? '0' : format(abs(datum.value),'.1f')) : ''"}}
}},
{"data":{"name":"peaks"},"mark":{"type":"rule","color":"#000","strokeWidth":1.5},"encoding":{"x":{"field":"wn","type":"quantitative"},"y":{"field":"shaftA","type":"quantitative"},"y2":{"field":"shaftB"}}},
{"data":{"name":"peaks"},"mark":{"type":"point","filled":true,"opacity":1,"color":"#000","size":170},"encoding":{"x":{"field":"wn","type":"quantitative"},"y":{"field":"headV","type":"quantitative"},"shape":{"field":"dir","type":"nominal","legend":null,"scale":{"domain":["down","up"],"range":["triangle-down","triangle-up"]}}}},
{"data":{"name":"peaks"},"mark":{"type":"text","font":"Liberation Serif","fontSize":18,"color":"#000","angle":270,"align":"center","baseline":"middle"},"encoding":{"x":{"field":"wn","type":"quantitative"},"y":{"field":"textV","type":"quantitative"},"text":{"field":"label","type":"nominal"}}},
{"data":{"name":"peak1482"},"mark":{"type":"rule","color":"#000","strokeWidth":1.5},"encoding":{"x":{"field":"shaftA","type":"quantitative"},"x2":{"field":"shaftB"},"y":{"field":"v","type":"quantitative"}}},
{"data":{"name":"peak1482"},"mark":{"type":"point","shape":"triangle-left","filled":true,"opacity":1,"color":"#000","size":150},"encoding":{"x":{"field":"headWn","type":"quantitative"},"y":{"field":"v","type":"quantitative"}}},
{"data":{"name":"peak1482"},"mark":{"type":"text","font":"Liberation Serif","fontSize":18,"fontWeight":"bold","color":"#000","align":"center","baseline":"middle"},"encoding":{"x":{"field":"textWn","type":"quantitative"},"y":{"field":"v","type":"quantitative"},"text":{"field":"label","type":"nominal"}}}
],
"resolve":{"scale":{"shape":"independent"}}
}
],
"resolve":{"scale":{"x":"independent","y":"independent","shape":"independent","color":"independent"}}
}
